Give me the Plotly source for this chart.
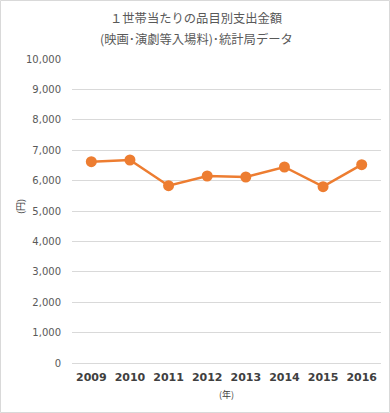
import plotly.graph_objects as go

years = ["2009", "2010", "2011", "2012", "2013", "2014", "2015", "2016"]
spending = [6622, 6678, 5833, 6151, 6118, 6447, 5800, 6523]
y_ticks = [0, 1000, 2000, 3000, 4000, 5000, 6000, 7000, 8000, 9000, 10000]
title_lines = ["１世帯当たりの品目別支出金額", "(映画･演劇等入場料)･統計局データ"]

W, H = 390, 413
ml, mr, mt, mb = 72, 9, 59, 50
pw, ph = W - ml - mr, H - mt - mb


def px_x(x):
    return (x - ml) / pw


def px_y(y):
    return (H - mb - y) / ph


fig = go.Figure()
fig.add_trace(go.Scatter(
    x=years, y=spending, mode="lines+markers",
    line=dict(color="#ED7D31", width=2.5),
    marker=dict(color="#ED7D31", size=11),
    hoverinfo="x+y",
))

annotations = [
    dict(text=title_lines[0], xref="paper", yref="paper",
         x=px_x(196), y=px_y(18), showarrow=False,
         xanchor="center", yanchor="middle",
         font=dict(family="Noto Sans CJK JP", size=12.3, color="#595959")),
    dict(text=title_lines[1], xref="paper", yref="paper",
         x=px_x(196), y=px_y(38.5), showarrow=False,
         xanchor="center", yanchor="middle",
         font=dict(family="Noto Sans CJK JP", size=12.3, color="#595959")),
    dict(text="(円)", xref="paper", yref="paper",
         x=px_x(20), y=px_y(207), textangle=-90,
         showarrow=False, xanchor="center", yanchor="middle",
         font=dict(family="Noto Sans CJK JP", size=9, color="#404040")),
    dict(text="(年)", xref="paper", yref="paper",
         x=px_x(226), y=px_y(395), showarrow=False,
         xanchor="center", yanchor="middle",
         font=dict(family="Noto Sans CJK JP", size=9, color="#404040")),
]

fig.update_layout(
    width=W, height=H,
    margin=dict(l=ml, r=mr, t=mt, b=mb),
    paper_bgcolor="white", plot_bgcolor="white",
    showlegend=False,
    xaxis=dict(
        type="category", range=[-0.5, 7.5],
        showgrid=False, showline=True, linecolor="#d9d9d9", linewidth=1,
        tickfont=dict(family="DejaVu Sans", size=11, color="#404040", weight="bold"),
        ticks="", ticklabelstandoff=4,
    ),
    yaxis=dict(
        range=[0, 10000], tickvals=y_ticks,
        tickformat=",d",
        showgrid=True, gridcolor="#d9d9d9", gridwidth=1,
        zeroline=False, showline=False,
        tickfont=dict(family="DejaVu Sans", size=10, color="#595959"),
        ticks="", ticklabelstandoff=10,
    ),
    font=dict(family="Noto Sans CJK JP"),
    shapes=[dict(
        type="rect", xref="paper", yref="paper",
        x0=px_x(0.5), x1=px_x(W - 0.5),
        y0=px_y(H - 0.5), y1=px_y(0.5),
        line=dict(color="#d9d9d9", width=1),
    )],
    annotations=annotations,
)

fig.write_html("out.html", config={"displayModeBar": False},
               post_script="document.body.style.margin='0';")
